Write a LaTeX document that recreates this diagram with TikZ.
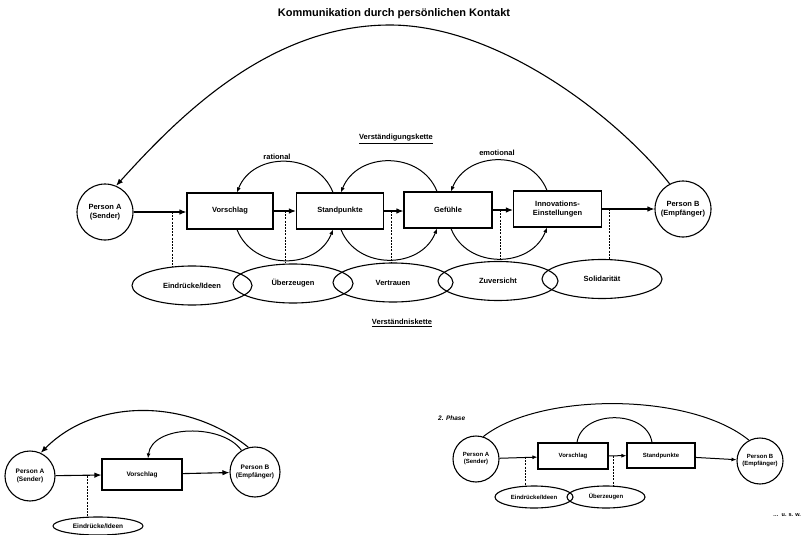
\documentclass[tikz,border=0pt]{standalone}
\usepackage{fontspec}
\setmainfont{Liberation Sans}
\usetikzlibrary{arrows.meta,calc,shapes.geometric}
\begin{document}
\begin{tikzpicture}[x=1pt,y=-1pt,
  every node/.style={inner sep=0pt,align=center},
  fA/.style={font=\fontsize{7.5}{8.5}\selectfont\bfseries},
  fB/.style={font=\fontsize{6.5}{7.5}\selectfont\bfseries},
  fC/.style={font=\fontsize{6}{7}\selectfont\bfseries},
  box/.style={draw,line width=1.1pt},
  pers/.style={draw,circle,line width=1.1pt},
  oval/.style={draw,ellipse,line width=1.1pt},
  arr/.style={line width=1.1pt,-{Latex[length=7pt,width=5.5pt]}},
  sarr/.style={line width=1pt,-{Latex[length=5pt,width=4pt]}},
  plain/.style={line width=1pt},
  dsh/.style={line width=1pt,dash pattern=on 2pt off 1.2pt}]
\useasboundingbox (0,0) rectangle (809,535);

% ---------------- title ----------------
\node[font=\fontsize{11}{13}\selectfont\bfseries] (title) at (394,14) {Kommunikation durch persönlichen Kontakt};

% ---------------- top diagram ----------------
\node[fA] (vk) at (396,139) {\underline{Verständigungskette}};
\node[fA] (rat) at (277,157) {rational};
\node[fA] (emo) at (497,153) {emotional};

\node[pers,fA,minimum size=56pt] (A) at (105,212) {Person A\\(Sender)};
\node[box,fA,minimum width=86pt,minimum height=36pt] (V) at (230,211) {Vorschlag};
\node[box,fA,minimum width=87pt,minimum height=36pt] (S) at (340,211) {Standpunkte};
\node[box,fA,minimum width=88pt,minimum height=36pt] (G) at (448,210) {Gefühle};
\node[box,fA,minimum width=88pt,minimum height=36pt] (I) at (557.5,209) {Innovations-\\Einstellungen};
\node[pers,fA,minimum size=56pt] (B) at (683,209) {Person B\\(Empfänger)};

\node[oval,fA,minimum width=120pt,minimum height=39pt] (E1) at (192,285.5) {Eindrücke/Ideen};
\node[oval,fA,minimum width=120pt,minimum height=39pt] (E2) at (293,283.5) {Überzeugen};
\node[oval,fA,minimum width=120pt,minimum height=39pt] (E3) at (393,282.5) {Vertrauen};
\node[oval,fA,minimum width=120pt,minimum height=39pt] (E4) at (498,281) {Zuversicht};
\node[oval,fA,minimum width=120pt,minimum height=39pt] (E5) at (602,279) {Solidarität};

\node[fA] (vn) at (402,323) {\underline{Verständniskette}};

% main chain
\draw[arr] (A.east) -- (A.east -| V.west);
\draw[arr] (V.east) -- (V.east -| S.west);
\draw[arr] (S.east) -- (S.east -| G.west);
\draw[arr] (G.east) -- (G.east -| I.west);
\draw[arr] (I.east) -- (I.east -| B.west);

% dashed links
\coordinate (d1) at (172,212);
\coordinate (d2) at (285,211);
\coordinate (d3) at (391,211);
\coordinate (d4) at (500,210);
\coordinate (d5) at (609,209);
\draw[dsh] (d1) -- ($(d1 |- E1.north)+(0,1)$);
\draw[dsh] (d2) -- ($(d2 |- E2.north)+(0,0)$);
\draw[dsh] (d3) -- ($(d3 |- E3.north)+(0,0)$);
\draw[dsh] (d4) -- ($(d4 |- E4.north)+(0,0)$);
\draw[dsh] (d5) -- ($(d5 |- E5.north)+(0,0)$);

% loops
\draw[sarr] ([xshift=-7pt]S.north) .. controls +(-16,-41) and +(16,-41) .. ([xshift=7pt]V.north);
\draw[sarr] ([xshift=7pt]V.south) .. controls +(16,41) and +(-16,41) .. ([xshift=-7pt]S.south);
\draw[sarr] ([xshift=-11pt]G.north) .. controls +(-16,-41) and +(16,-41) .. ([xshift=1pt]S.north);
\draw[sarr] ([xshift=1pt]S.south) .. controls +(16,41) and +(-16,41) .. ([xshift=-11pt]G.south);
\draw[sarr] ([xshift=-10.5pt]I.north) .. controls +(-16,-41) and +(16,-41) .. ([xshift=3pt]G.north);
\draw[sarr] ([xshift=3pt]G.south) .. controls +(16,41) and +(-16,41) .. ([xshift=-10.5pt]I.south);

% big arc B -> A
\coordinate (top) at (390,25);
\draw[arr] (B.118) .. controls (620,120) and (500,25) .. (top) .. controls (270,25) and (180,115) .. (A.67);

% ---------------- bottom left ----------------
\node[pers,fB,minimum size=50pt] (A2) at (30,476) {Person A\\(Sender)};
\node[box,fB,minimum width=80pt,minimum height=31pt] (V2) at (142,474.5) {Vorschlag};
\node[pers,fB,minimum size=50pt] (B2) at (255,472) {Person B\\(Empfänger)};
\node[oval,fB,minimum width=90pt,minimum height=18pt] (E6) at (98,526) {Eindrücke/Ideen};
\draw[arr] (A2) -- (V2);
\draw[arr] (V2) -- (B2);
\coordinate (d6) at (87,476);
\draw[dsh] (d6) -- ($(d6 |- E6.north)+(0,0.5)$);
\draw[arr] (B2.105) .. controls (187,398) and (95,398) .. (A2.65);
\draw[sarr] (B2.122) .. controls (222,423) and (152,425) .. ([xshift=6pt]V2.north);

% ---------------- bottom right ----------------
\node[font=\fontsize{6.5}{7.5}\selectfont\bfseries\itshape,anchor=west] (ph) at (438,418) {2. Phase};
\node[pers,fC,minimum size=46pt] (A3) at (476,459) {Person A\\(Sender)};
\node[box,fC,minimum width=70pt,minimum height=26pt] (V3) at (573,456) {Vorschlag};
\node[box,fC,minimum width=68pt,minimum height=25pt] (S3) at (661,455.5) {Standpunkte};
\node[pers,fC,minimum size=46pt] (B3) at (760,461) {Person B\\(Empfänger)};
\node[oval,fC,minimum width=78pt,minimum height=22pt] (E7) at (534,497) {Eindrücke/Ideen};
\node[oval,fC,minimum width=78pt,minimum height=22pt] (E8) at (606,497) {Überzeugen};
\draw[sarr] (A3) -- (V3);
\draw[sarr] (V3) -- (S3);
\draw[sarr] (S3) -- (B3);
\coordinate (d7) at (525,457);
\coordinate (d8) at (613,456);
\draw[dsh] (d7) -- ($(d7 |- E7.north)+(0,0.5)$);
\draw[dsh] (d8) -- ($(d8 |- E8.north)+(0,0)$);
\draw[plain] (A3.72) .. controls (540,392) and (690,392) .. (B3.118);
\draw[plain] ([xshift=4pt]V3.north) .. controls +(5,-33) and +(-5,-33) .. ([xshift=-9pt]S3.north);
\node[font=\fontsize{5.5}{6.5}\selectfont\bfseries] (usw) at (787,515) {\dots\ \ u. s. w.};
\end{tikzpicture}
\end{document}
